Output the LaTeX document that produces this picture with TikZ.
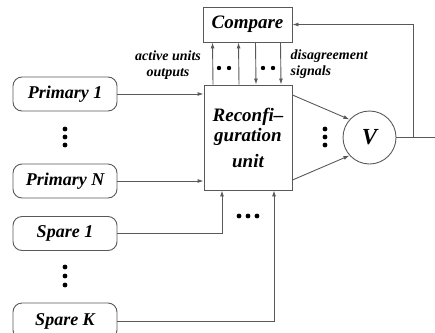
\documentclass[tikz,border=0pt]{standalone}
\usepackage{fontspec}
\setmainfont{Liberation Serif}
\usetikzlibrary{arrows.meta}

\begin{document}
\begin{tikzpicture}[x=1pt, y=-1pt, >={Latex[length=6pt,width=4pt]},
    line/.style={draw=black!65, line width=0.9pt},
    module/.style={line, rounded corners=9pt, minimum width=104pt, minimum height=34pt,
        font=\fontsize{18}{18}\selectfont\bfseries\itshape},
    block/.style={line, inner sep=0pt, font=\fontsize{19}{19}\selectfont\bfseries\itshape},
    note/.style={font=\fontsize{14}{16}\selectfont\bfseries\itshape, inner sep=0pt},
    dot/.style={fill=black, draw=none}]
    \useasboundingbox (0,0) rectangle (435,332);

    % units
    \node[module] (p1) at (65,94) {Primary 1};
    \node[module] (pN) at (65,181) {Primary N};
    \node[module] (s1) at (65,233.5) {Spare 1};
    \node[module, minimum height=36pt] (sK) at (65,321) {Spare K};

    \node[block, minimum width=89pt, minimum height=35pt] (cmp) at (247.5,24.5) {Compare};
    \node[block, minimum width=88pt, minimum height=105pt, align=center] (rcf) at (248,137.5)
        {Reconfi--\\[1pt]guration\\[7pt]unit};
    \node[line, circle, minimum size=53pt, inner sep=0pt,
        font=\fontsize{23}{23}\selectfont\bfseries\itshape] (v) at (369.5,137.5) {V};

    \coordinate (fb) at (413,137.5);
    \coordinate (out) at (435,137.5);

    % inputs
    \draw[line, ->] (p1.east) -- (p1.east -| rcf.west);
    \draw[line, ->] (pN.east) -- (pN.east -| rcf.west);
    \draw[line, ->] (s1.east) -| ([xshift=-26pt]rcf.south);
    \draw[line, ->] (sK.east) -| ([xshift=26pt]rcf.south);

    % compare links
    \foreach \dx in {-35, -9} {
        \draw[line, ->] ([xshift=\dx pt]rcf.north) -- ([xshift=\dx pt]cmp.south);
    }
    \foreach \dx in {8, 33} {
        \draw[line, ->] ([xshift=\dx pt]cmp.south) -- ([xshift=\dx pt]rcf.north);
    }

    % voter
    \draw[line, ->] ([yshift=42.5pt]rcf.east) -- (v.138);
    \draw[line, ->] ([yshift=-42.5pt]rcf.east) -- (v.222);
    \draw[line] (v.east) -- (out);
    \draw[line, ->] (fb) |- (cmp.east);

    % labels
    \node[note, align=center] (act) at (168,65) {active units\\outputs};
    \node[note, align=left, anchor=west] (dis) at (290.5,64) {disagreement\\signals};

    % dots
    \foreach \y in {129, 137, 145} {
        \fill[dot] (65,\y) circle (2.4);
        \fill[dot] (325,\y) circle (2.4);
    }
    \foreach \y in {267, 276, 285} {
        \fill[dot] (65,\y) circle (2.4);
    }
    \foreach \x in {239, 248, 257} {
        \fill[dot] (\x,216) circle (2.4);
    }
    \foreach \x in {219, 229, 263, 273} {
        \fill[dot] (\x,68) circle (2.2);
    }
\end{tikzpicture}
\end{document}
